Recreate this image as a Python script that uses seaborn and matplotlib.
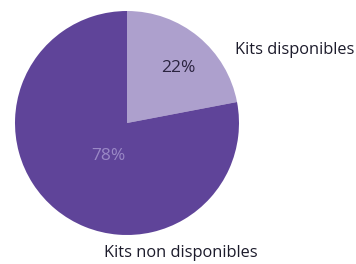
import seaborn as sns
import matplotlib.pyplot as plt

# data
categories = ["Kits disponibles", "Kits non disponibles"]
shares = [22, 78]
colors = ["#ada0cd", "#5f4499"]
pct_colors = ["#2b2440", "#9a88c6"]

sns.set_theme(style="white")
plt.rcParams["font.family"] = ["Open Sans", "DejaVu Sans"]

fig = plt.figure(figsize=(3.56, 2.64), dpi=100)
# pie centre at about (127, 123) px, radius 112 px
ax = fig.add_axes([15 / 356, 29 / 264, 224 / 356, 224 / 264])
ax.pie(shares, colors=colors, startangle=90, counterclock=False, radius=1,
       wedgeprops=dict(linewidth=0))
ax.set_xlim(-1, 1)
ax.set_ylim(-1, 1)
ax.axis("off")

# percentage labels
ax.text(0.455, 0.49, f"{shares[0]}%", ha="center", va="center",
        fontsize=12.5, color=pct_colors[0])
ax.text(-0.17, -0.295, f"{shares[1]}%", ha="center", va="center",
        fontsize=12.5, color=pct_colors[1])

# category labels
ax.text(0.96, 0.65, categories[0], ha="left", va="center",
        fontsize=11.8, color="#1c1b2b", clip_on=False)
ax.text(0.48, -1.165, categories[1], ha="center", va="center",
        fontsize=11.8, color="#1c1b2b", clip_on=False)

fig.savefig("out.png", dpi=100)
